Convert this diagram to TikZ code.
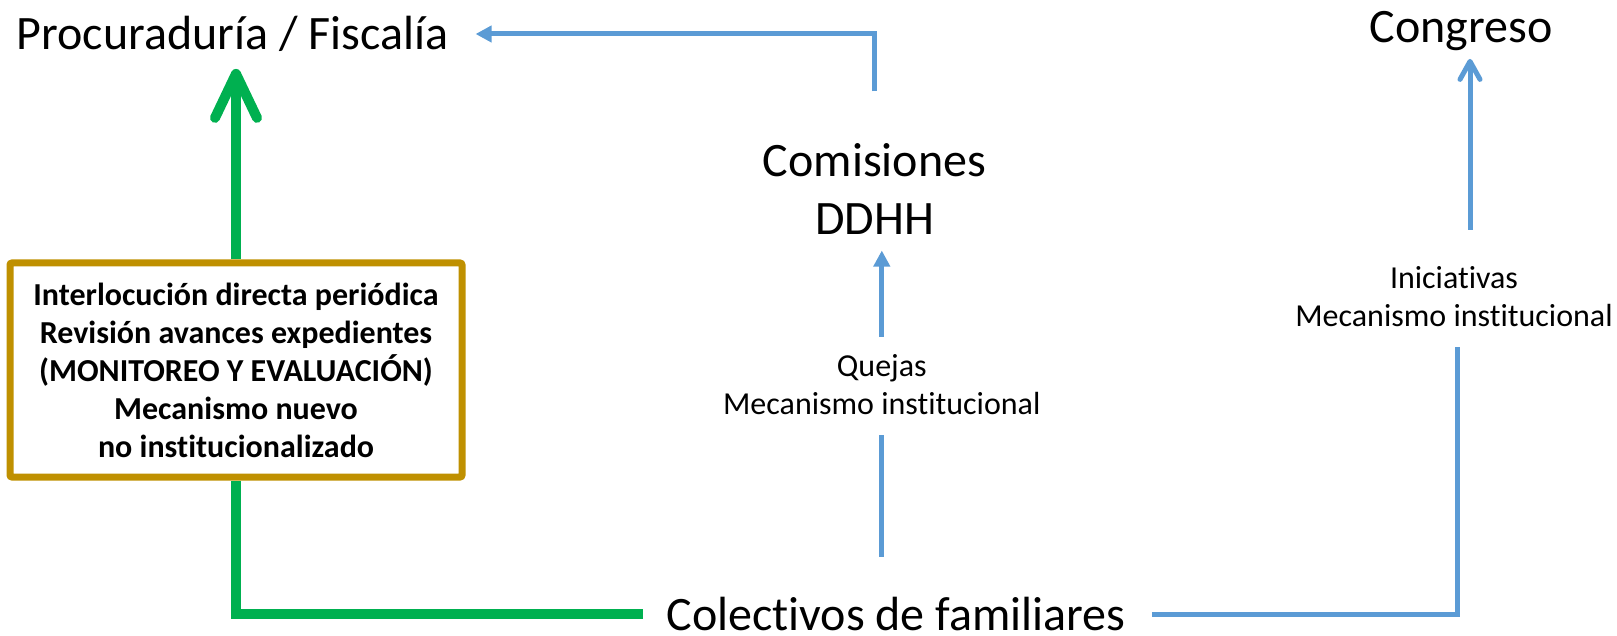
\documentclass[tikz,border=0pt]{standalone}
\usepackage{fontspec}
\setmainfont{Carlito}[Ligatures=NoCommon]
\usetikzlibrary{arrows.meta}
\definecolor{azul}{HTML}{5B9BD5}
\definecolor{verde}{HTML}{00B050}
\definecolor{oro}{HTML}{BF9000}
\tikzset{
  grande/.style={font=\fontsize{48}{57.6}\selectfont, align=center, inner sep=0pt},
  chico/.style={font=\fontsize{32}{38}\selectfont, align=center, inner sep=0pt},
  caja/.style={draw=oro, line width=7pt, rounded corners=2pt, minimum width=452pt,
    minimum height=214pt, align=center, font=\fontsize{32}{38}\selectfont\bfseries},
  linea azul/.style={draw=azul, line width=5pt},
  linea verde/.style={draw=verde, line width=10pt},
  tri azul/.style={linea azul, -{Triangle[length=16pt,width=16pt]}},
  barb azul/.style={linea azul, -{Straight Barb[round,length=18pt,width=20pt]}},
  barb verde/.style={linea verde, -{Straight Barb[round,length=44pt,width=42pt]}}
}
\begin{document}
\begin{tikzpicture}[x=1pt,y=-1pt]
  \useasboundingbox (0,0) rectangle (1617,636);
  \node[grande] (proc) at (232.6,34) {Procuraduría / Fiscalía};
  \node[grande] (cong) at (1461,31) {Congreso};
  \node[grande] (com) at (874.6,189) {Comisiones\\DDHH};
  \node[chico] (que) at (881.8,385) {Quejas\\Mecanismo institucional};
  \node[grande] (col) at (896,614) {Colectivos de familiares};
  \node[chico] (ini) at (1454,297) {Iniciativas\\Mecanismo institucional};
  \node[caja] (box) at (236,370) {Interlocución directa periódica\\
    Revisión avances expedientes\\(MONITOREO Y EVALUACIÓN)\\
    Mecanismo nuevo\\no institucionalizado};
  % verde
  \draw[linea verde, shorten <=23pt] (col.west) -| (box.south);
  \draw[barb verde, shorten >=17pt] (box.north) -- (box.north |- proc.south);
  % azul
  \draw[tri azul, shorten <=52pt, shorten >=27pt] (com.north) |- (proc.east);
  \draw[tri azul, shorten <=18pt, shorten >=16pt] (que.north) -- (que.north |- com.south);
  \draw[linea azul, shorten <=40pt, shorten >=20pt] (col.north -| que.south) -- (que.south);
  \draw[linea azul, shorten <=26pt, shorten >=20pt] (col.east) -| ([xshift=3pt]ini.south);
  \draw[barb azul, shorten <=37pt, shorten >=8pt] ([xshift=9pt]cong.south |- ini.north) -- ([xshift=9pt]cong.south);
\end{tikzpicture}
\end{document}
